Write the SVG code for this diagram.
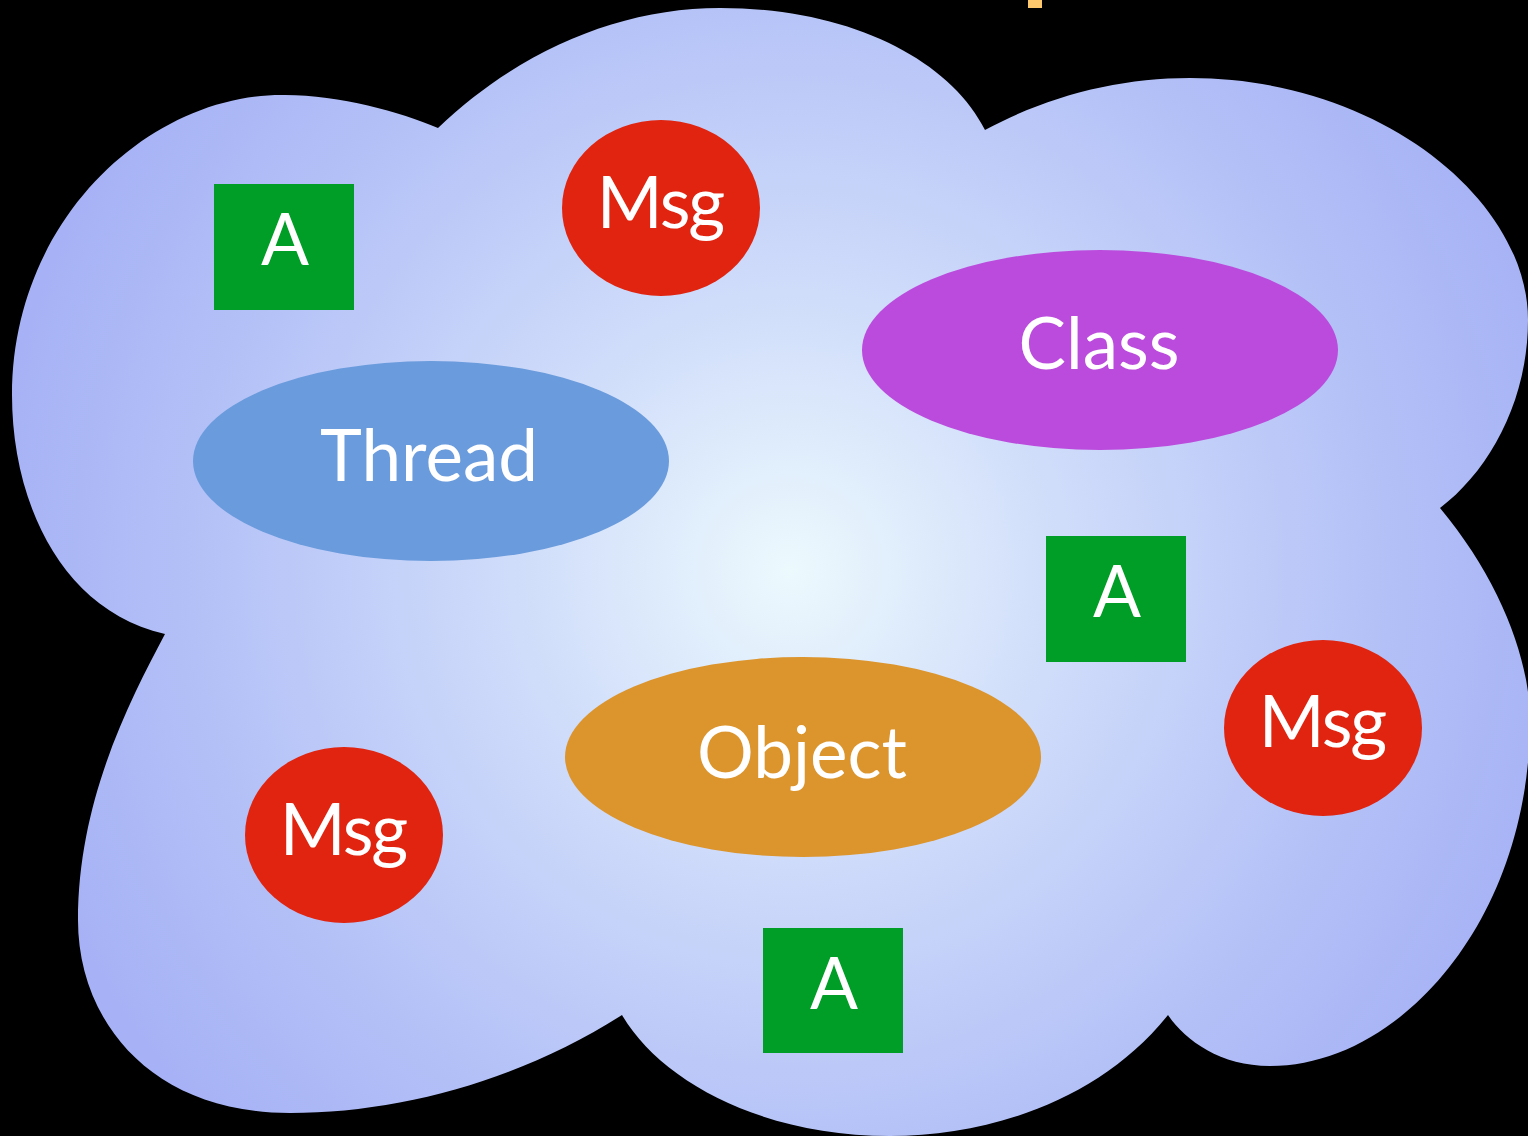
<svg xmlns="http://www.w3.org/2000/svg" width="1528" height="1136" viewBox="0 0 1528 1136">
<defs>
<radialGradient id="cloudGrad" gradientUnits="userSpaceOnUse" cx="790" cy="570" r="800">
<stop offset="0" stop-color="#ecf9fd"/>
<stop offset="0.35" stop-color="#cfdcfa"/>
<stop offset="0.75" stop-color="#b3c0f7"/>
<stop offset="1" stop-color="#a6b2f5"/>
</radialGradient>
<style>
.lbl{font-family:Lato,"Open Sans","Liberation Sans",sans-serif;fill:#ffffff;text-anchor:middle;font-size:71px}
.msgt{letter-spacing:-2px}
.a{fill:#009e27}
.msg{fill:#e0240f}
</style>
</defs>
<rect x="0" y="0" width="1528" height="1136" fill="#000000"/>
<rect x="1028" y="0" width="14" height="8" fill="#fdc86b"/>
<path id="cloud" fill="url(#cloudGrad)" d="M165,634 C60,610 12,500 12,395 C12,220 150,93 285,95 C340,95 400,112 438,128 C520,50 620,8 720,8 C850,8 950,60 985,130 C1050,95 1120,78 1190,78 C1380,78 1528,200 1528,320 C1528,400 1490,470 1440,508 C1500,580 1530,660 1530,720 C1530,920 1400,1066 1270,1066 C1220,1066 1185,1040 1168,1015 C1100,1100 990,1136 890,1136 C760,1136 660,1080 622,1015 C520,1080 400,1113 290,1113 C150,1113 78,1020 78,920 C78,800 130,700 165,634 Z"/>
<g id="connectors"></g>
<g id="a1"><rect class="a" x="214" y="184" width="140" height="126"/><text class="lbl" x="285" y="265">A</text></g>
<g id="msg1"><ellipse class="msg" cx="661" cy="208" rx="99" ry="88"/><text class="lbl msgt" x="660" y="228">Msg</text></g>
<g id="class"><ellipse cx="1100" cy="350" rx="238" ry="100" fill="#bb4bdc"/><text class="lbl" x="1099" y="369">Class</text></g>
<g id="thread"><ellipse cx="431" cy="461" rx="238" ry="100" fill="#6a9bdc"/><text class="lbl" x="429" y="481">Thread</text></g>
<g id="a2"><rect class="a" x="1046" y="536" width="140" height="126"/><text class="lbl" x="1117" y="617">A</text></g>
<g id="msg2"><ellipse class="msg" cx="1323" cy="728" rx="99" ry="88"/><text class="lbl msgt" x="1322" y="747">Msg</text></g>
<g id="object"><ellipse cx="803" cy="757" rx="238" ry="100" fill="#dc942c"/><text class="lbl" x="802" y="778">Object</text></g>
<g id="msg3"><ellipse class="msg" cx="344" cy="835" rx="99" ry="88"/><text class="lbl msgt" x="343" y="855">Msg</text></g>
<g id="a3"><rect class="a" x="763" y="928" width="140" height="125"/><text class="lbl" x="834" y="1009">A</text></g>
</svg>
